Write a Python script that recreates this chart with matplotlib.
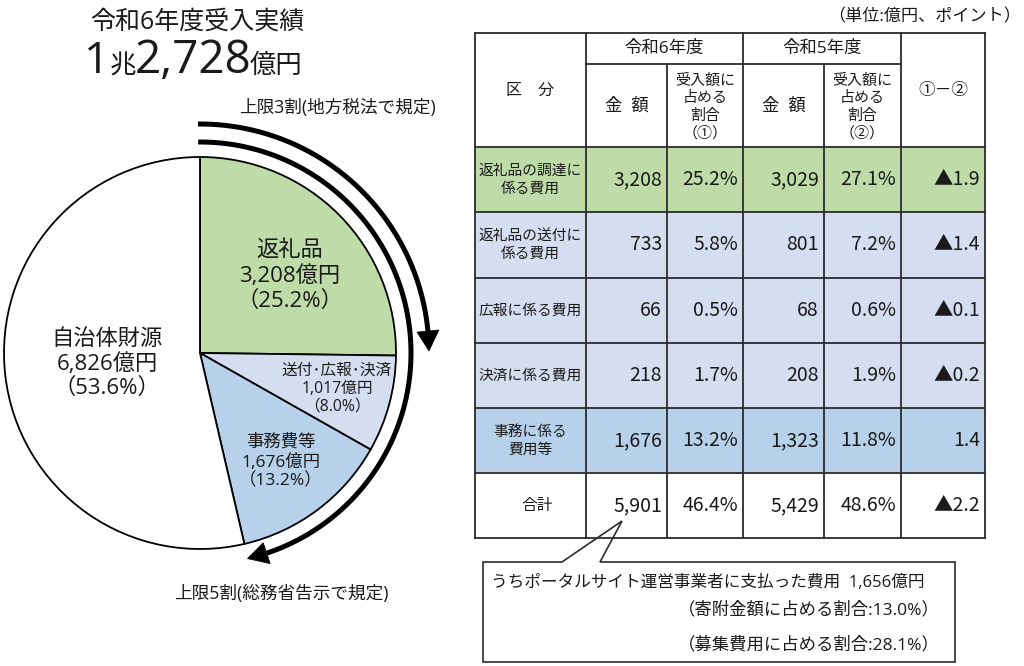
#!/usr/bin/python3

import numpy as np
import matplotlib
matplotlib.use("Agg")
import matplotlib.pyplot as plt
from matplotlib.patches import Rectangle, Polygon


plt.rcParams['font.family'] = ['Open Sans', 'Noto Sans CJK JP', 'DejaVu Sans']

W, H = 1024, 666

# pie data
pie_names = ["返礼品", "送付･広報･決済", "事務費等", "自治体財源"]
pie_values = [3208, 1017, 1676, 6826]
pie_shares = [25.2, 8.0, 13.2, 53.6]
pie_colors = ["#bfdca8", "#d5def0", "#b7d1ea", "#ffffff"]
total_cho = 1
total_oku = 2728

# table data
row_names = ["返礼品の調達に\n係る費用", "返礼品の送付に\n係る費用", "広報に係る費用",
             "決済に係る費用", "事務に係る\n費用等", "合計"]
row_colors = ["#bfdca8", "#d5def0", "#d5def0", "#d5def0", "#b7d1ea", "#ffffff"]
amount_r6 = [3208, 733, 66, 218, 1676, 5901]
share_r6 = [25.2, 5.8, 0.5, 1.7, 13.2, 46.4]
amount_r5 = [3029, 801, 68, 208, 1323, 5429]
share_r5 = [27.1, 7.2, 0.6, 1.9, 11.8, 48.6]
share_diff = [-1.9, -1.4, -0.1, -0.2, 1.4, -2.2]

portal_cost = 1656
portal_share_donation = 13.0
portal_share_cost = 28.1

NUM_FONT = ['Noto Sans CJK JP', 'DejaVu Sans']
JP_FONT = ['Noto Sans CJK JP', 'DejaVu Sans']
TXT = '#1a1a1a'


def Y(y):
    # picture rows run downward, axes run upward
    return H - y


def diff_label(v):
    if v < 0:
        return "▲%.1f" % abs(v)
    return "%.1f" % v


def arc_arrow(ax, cx, cy, r, a_start, a_tip, head_len=20, head_half=11, lw=3.6):
    # clockwise arc from a_start to a_tip (degrees), head at the tip
    a_base = a_tip + np.degrees(head_len / r)
    t = np.radians(np.linspace(a_start, a_base, 200))
    ax.plot(cx + r * np.cos(t), cy + r * np.sin(t), color='black', lw=lw,
            solid_capstyle='butt', zorder=5)
    tt = np.radians(a_tip)
    tip = np.array([cx + r * np.cos(tt), cy + r * np.sin(tt)])
    tb = np.radians(a_base)
    base = np.array([cx + r * np.cos(tb), cy + r * np.sin(tb)])
    radial = np.array([np.cos(tb), np.sin(tb)])
    head = [tip, base + head_half * radial, base - head_half * radial]
    ax.add_patch(Polygon(head, closed=True, facecolor='black', edgecolor='black',
                         lw=0.5, zorder=5))


fig = plt.figure(figsize=(W / 100, H / 100), dpi=100)
ax = fig.add_axes([0, 0, 1, 1])

# ---- pie
cx, cy, rad = 200, Y(353), 196
ax.pie(pie_values, colors=pie_colors, startangle=90, counterclock=False,
       center=(cx, cy), radius=rad,
       wedgeprops=dict(edgecolor='black', linewidth=1.3))
ax.set_xlim(0, W)
ax.set_ylim(0, H)
ax.set_aspect('equal')
ax.axis('off')

label_pos = [(290, 276, 16, 1.25), (337, 389, 11.3, 1.15), (281, 462, 12.5, 1.2),
             (107, 364, 16, 1.2)]
for name, v, s, (x, y, fs, ls) in zip(pie_names, pie_values, pie_shares, label_pos):
    ax.text(x, Y(y), "%s\n%s億円\n（%.1f%%）" % (name, format(v, ','), s),
            ha='center', va='center', fontsize=fs, color=TXT, linespacing=ls, zorder=6)

# arrows round the pie
arc_arrow(ax, cx, cy, 229, 90.5, 0.5)
arc_arrow(ax, cx, cy, 211, 90.5, -77)
ax.text(239, Y(108), "上限3割(地方税法で規定)", ha='left', va='center', fontsize=12.7, color=TXT)
ax.text(174, Y(594), "上限5割(総務省告示で規定)", ha='left', va='center', fontsize=12.7, color=TXT)

# ---- title
ax.text(197, Y(22), "令和6年度受入実績", ha='center', va='center', fontsize=18, color=TXT)
renderer = fig.canvas.get_renderer()
xpos = 84
for s, fs, gap in [(str(total_cho), 32, 0), ("兆", 19, -1), (format(total_oku, ','), 33, -2), ("億円", 19, 0)]:
    t = ax.text(xpos, Y(73), s, ha='left', va='baseline', fontsize=fs, color=TXT)
    bb = t.get_window_extent(renderer=renderer)
    xpos = ax.transData.inverted().transform((bb.x1, 0))[0] + gap

# ---- table
cols = [475, 586, 667, 743, 824, 901, 985]
rows = [147, 212, 278, 343, 408, 473, 538]
head_top, head_mid = 33, 64
line_kw = dict(color='#2b2b2b', lw=1.3, zorder=7, solid_capstyle='projecting')

for i, c in enumerate(row_colors):
    ax.add_patch(Rectangle((cols[0], Y(rows[i + 1])), cols[-1] - cols[0],
                           rows[i + 1] - rows[i], facecolor=c, edgecolor='none', zorder=1))

for y in [head_top] + rows:
    ax.plot([cols[0], cols[-1]], [Y(y), Y(y)], **line_kw)
ax.plot([cols[1], cols[5]], [Y(head_mid), Y(head_mid)], **line_kw)
for j, x in enumerate(cols):
    top = head_mid if j in (2, 4) else head_top
    ax.plot([x, x], [Y(top), Y(rows[-1])], **line_kw)

# header
ax.text((cols[0] + cols[1]) / 2, Y(90), "区　分", ha='center', va='center', fontsize=11.5,
        color=TXT, family=JP_FONT)
ax.text((cols[1] + cols[3]) / 2, Y(49), "令和6年度", ha='center', va='center', fontsize=12.5, color=TXT)
ax.text((cols[3] + cols[5]) / 2, Y(49), "令和5年度", ha='center', va='center', fontsize=12.5, color=TXT)
for k, mark in enumerate(["①", "②"]):
    c0 = cols[1 + 2 * k]
    ax.text((c0 + cols[2 + 2 * k]) / 2, Y(107), "金  額", ha='center', va='center',
            fontsize=12.5, color=TXT)
    ax.text((cols[2 + 2 * k] + cols[3 + 2 * k]) / 2, Y(107), "受入額に\n占める\n割合\n（%s）" % mark,
            ha='center', va='center', fontsize=10.8, linespacing=1.3, color=TXT,
            family=JP_FONT)
ax.text((cols[5] + cols[6]) / 2, Y(90), "①－②", ha='center', va='center', fontsize=12,
        color=TXT, family=JP_FONT)

# body
for i in range(len(row_names)):
    yc = Y((rows[i] + rows[i + 1]) / 2)
    xc = (cols[0] + cols[1]) / 2 + (7 if i == len(row_names) - 1 else 0)
    ax.text(xc, yc, row_names[i], ha='center', va='center',
            fontsize=10.6 if i < len(row_names) - 1 else 11.3, linespacing=1.35,
            color=TXT, zorder=8, family=JP_FONT)
    cells = [format(amount_r6[i], ','), "%.1f%%" % share_r6[i],
             format(amount_r5[i], ','), "%.1f%%" % share_r5[i], diff_label(share_diff[i])]
    for j, s in enumerate(cells):
        ax.text(cols[j + 2] - 5, yc, s, ha='right', va='center', fontsize=14,
                family=NUM_FONT, color=TXT, zorder=8)

ax.text(1021, Y(17), "（単位:億円、ポイント）", ha='right', va='center', fontsize=12.3, color=TXT)

# ---- callout
callout = [(483, 562), (562, 562), (622, 521), (600, 562), (955, 562), (955, 662), (483, 662)]
ax.add_patch(Polygon([(x, Y(y)) for x, y in callout], closed=True, facecolor='white',
                     edgecolor='#2b2b2b', lw=1.2, zorder=6))
ax.text(491, Y(583), "うちポータルサイト運営事業者に支払った費用  %s億円" % format(portal_cost, ','),
        ha='left', va='center', fontsize=12.0, color=TXT, zorder=8)
ax.text(940, Y(610), "（寄附金額に占める割合:%.1f%%）" % portal_share_donation,
        ha='right', va='center', fontsize=12.5, color=TXT, zorder=8)
ax.text(940, Y(645), "（募集費用に占める割合:%.1f%%）" % portal_share_cost,
        ha='right', va='center', fontsize=12.5, color=TXT, zorder=8)

fig.savefig("out.png", dpi=100)
